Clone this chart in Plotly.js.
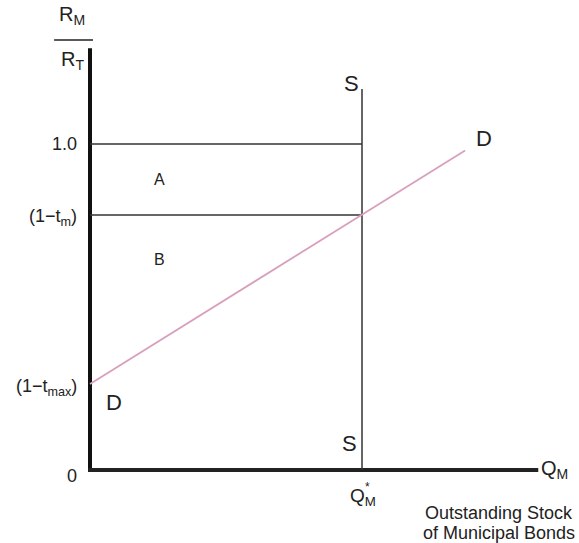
<!DOCTYPE html>
<html>
<head>
<meta charset="utf-8">
<script src="https://cdn.plot.ly/plotly-3.0.1.min.js"></script>
<style>html,body{margin:0;padding:0;background:#fff;}#chart{width:579px;height:543px;}</style>
</head>
<body>
<div id="chart"></div>
<script>
// ---- data ----
const qStar = 1.0;                 // equilibrium quantity Q*_M
const yTickVals = [0, 0.264, 0.782, 1.0];
const yTickText = ["0", "(1−t<sub>max</sub>)", "(1−t<sub>m</sub>)", "1.0"];
const supplyX = [qStar, qStar];
const supplyY = [0, 1.169];
const demandX = [0, 1.379];
const demandY = [0.264, 0.980];
const hLineLevels = [1.0, 0.782];   // 1.0 and (1-t_m)
const xAxisEnd = 1.648;
const yAxisTop = 1.294;

const FONT = "Liberation Sans, Arial, Helvetica, sans-serif";
const TXT = "#222";

const traces = [];
// axes (thick)
traces.push({x: [0, 0], y: [-0.006, yAxisTop], mode: "lines", line: {color: "#111", width: 4}, hoverinfo: "skip"});
traces.push({x: [-0.007, xAxisEnd], y: [0, 0], mode: "lines", line: {color: "#222", width: 4}, hoverinfo: "skip"});
// horizontal lines
hLineLevels.forEach(v => traces.push({x: [0, qStar], y: [v, v], mode: "lines", line: {color: "#333", width: 1.5}, hoverinfo: "skip"}));
// supply
traces.push({x: supplyX, y: supplyY, mode: "lines", line: {color: "#333", width: 1.5}, hoverinfo: "skip"});
// demand
traces.push({x: demandX, y: demandY, mode: "lines", line: {color: "#d9a0bd", width: 1.8}, hoverinfo: "skip"});

const ann = [];
function a(x, y, text, size, opts) {
  ann.push(Object.assign({x: x, y: y, xref: "x", yref: "y", text: text, showarrow: false,
    font: {family: FONT, size: size, color: TXT}, xanchor: "center", yanchor: "middle"}, opts || {}));
}
// y tick labels
yTickVals.forEach((v, i) => {
  const extra = {0: {yshift: -6}, 1: {yshift: -4}, 2: {yshift: -2}, 3: {}}[i];
  a(0, v, yTickText[i], 18, Object.assign({xanchor: "right", xshift: -11}, extra));
});
// axis title fraction R_M / R_T
a(-0.066, 1.395, "R<sub>M</sub>", 20, {});
a(-0.066, 1.255, "R<sub>T</sub>", 20, {});
// region labels
a(0.254, 0.891, "A", 16);
a(0.254, 0.647, "B", 16);
// S labels
a(qStar, supplyY[1], "S", 22, {xshift: -11, yshift: 5});
a(qStar, 0, "S", 22, {xshift: -13, yshift: 27});
// D labels
a(demandX[1], demandY[1], "D", 22, {xshift: 19, yshift: 12});
a(demandX[0], demandY[0], "D", 22, {xshift: 24, yshift: -19});
// Q_M at axis end
a(xAxisEnd, 0, "Q<sub>M</sub>", 20, {xanchor: "left", xshift: 1, yshift: 1});
// Q*_M
a(qStar, 0, "Q<sub>M</sub>", 19, {yshift: -27, xshift: 1});
a(qStar, 0, "*", 12, {xshift: 5, yshift: -17});
// x description
a(1.224, -0.135, "Outstanding Stock", 18, {xanchor: "left", yshift: 1});
a(1.217, -0.185, "of Municipal Bonds", 18, {xanchor: "left", yshift: -3});

const layout = {
  width: 579, height: 543,
  margin: {l: 0, r: 0, t: 0, b: 0},
  paper_bgcolor: "#fff", plot_bgcolor: "#fff",
  showlegend: false,
  xaxis: {range: [-90/272, 489/272], visible: false, fixedrange: true},
  yaxis: {range: [-73/326, 470/326], visible: false, fixedrange: true},
  shapes: [{type: "line", xref: "x", yref: "y", x0: -0.132, x1: 0.011, y0: 1.319, y1: 1.319, line: {color: "#222", width: 1.5}}],
  annotations: ann
};
Plotly.newPlot("chart", traces, layout, {displayModeBar: false, staticPlot: true});
</script>
</body>
</html>
